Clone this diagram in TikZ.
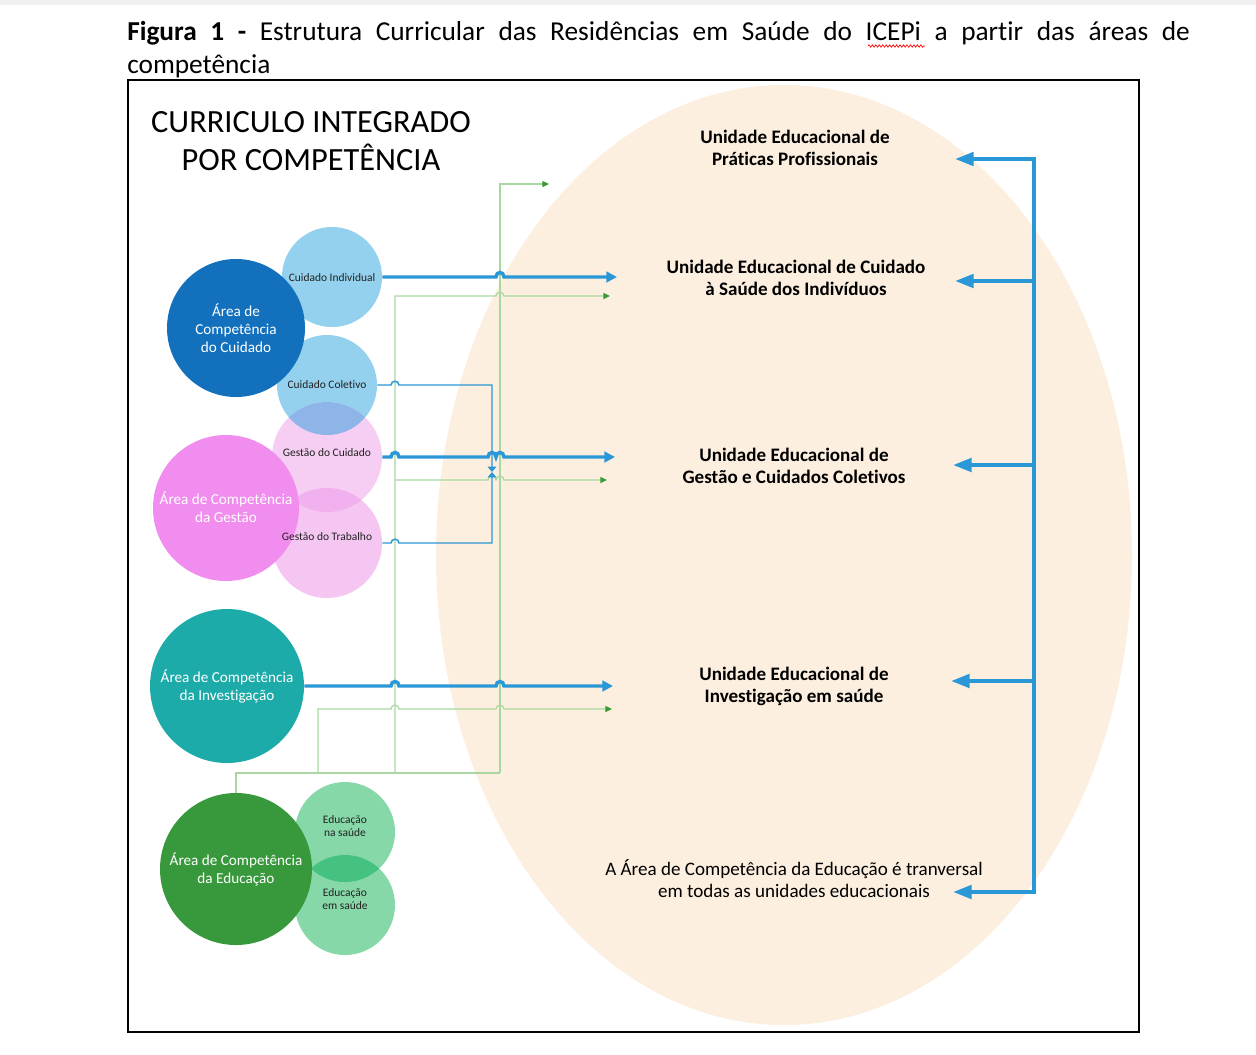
\documentclass[tikz,border=0pt]{standalone}
\usepackage{fontspec}
\setmainfont{Carlito}[RawFeature={-liga}]
\usetikzlibrary{arrows.meta,decorations.pathmorphing}
\definecolor{ellcol}{HTML}{FCEFDF}
\definecolor{barrow}{HTML}{2A97D6}
\definecolor{cdark}{HTML}{1270BD}
\definecolor{clight}{HTML}{93D1EE}
\definecolor{ovlbp}{HTML}{8DB5E8}
\definecolor{pinklight}{HTML}{F6CEF3}
\definecolor{pinklight2}{HTML}{F6C6F2}
\definecolor{ovlpp}{HTML}{F1B0EE}
\definecolor{pinkbig}{HTML}{F08DEE}
\definecolor{teal}{HTML}{1CABA9}
\definecolor{greenbig}{HTML}{38983C}
\definecolor{greenlight}{HTML}{86D8A9}
\definecolor{ovlgg}{HTML}{45C27F}
\definecolor{gline}{HTML}{A8D8A0}
\definecolor{gtip}{HTML}{3A9A3A}
\definecolor{txt}{HTML}{222222}
\begin{document}
\begin{tikzpicture}[x=0.75pt,y=-0.75pt,
  disc/.style={circle,inner sep=0pt,draw=none,minimum size=#1*1.5pt},
  smalltxt/.style={font=\fontsize{8.6}{10.2}\selectfont,text=txt,align=center,inner sep=0pt},
  bigtxt/.style={font=\fontsize{11.4}{13.5}\selectfont,text=white,align=center,inner sep=0pt},
  unit/.style={font=\fontsize{14.3}{16.5}\selectfont\bfseries,text=black,align=center,inner sep=0pt},
  bthick/.style={draw=barrow,line width=2.6pt,-{Triangle[length=8pt,width=8pt]}},
  bthin/.style={draw=barrow,line width=1.1pt,-{Triangle[length=4pt,width=6.5pt]}},
  gconn/.style={draw=gline,line width=0.9pt},
  garrow/.style={draw=gline,line width=0.9pt,-{Triangle[length=5pt,width=4.5pt,color=gtip]}},
  brack/.style={draw=barrow,line width=3pt},
  bracka/.style={draw=barrow,line width=3pt,-{Triangle[length=14pt,width=10pt]}}
]
\useasboundingbox (0,0) rectangle (1256,1054);
\fill[white] (0,0) rectangle (1256,1054);
\fill[black!6] (0,0) rectangle (1256,5);

% caption
\node[anchor=north west,inner sep=0pt,text width=797pt,align=justify,
      font=\fontsize{20.5}{24.75}\selectfont] (cap) at (127,21)
  {\textbf{Figura 1 -} Estrutura Curricular das Residências em Saúde do ICEPi a partir das áreas de\linebreak competência};
\draw[red,decorate,decoration={zigzag,segment length=2.6pt,amplitude=0.9pt},line width=0.5pt] (868,46) -- (925,46);

% frame
\draw[line width=1.5pt] (128,80) rectangle (1139,1032);

% big ellipse
\fill[ellcol] (784,555) ellipse [x radius=348, y radius=470];

% title
\node[font=\fontsize{24.3}{28.5}\selectfont,align=center,inner sep=0pt] (title) at (311,141)
  {CURRICULO INTEGRADO\\POR COMPETÊNCIA};

% small circles
\node[disc=50,fill=clight] (ci) at (332,277) {};
\node[disc=50,fill=clight] (cc) at (327,385) {};
\node[disc=55,fill=pinklight] (gc) at (327,457) {};
\node[disc=55,fill=pinklight2] (gt) at (327,543) {};
\node[disc=50,fill=greenlight] (en) at (345,832) {};
\node[disc=50,fill=greenlight] (es) at (345,905) {};
% overlaps
\begin{scope}
  \clip (cc.center) circle[radius=50];
  \fill[ovlbp] (gc.center) circle[radius=55];
\end{scope}
\begin{scope}
  \clip (gc.center) circle[radius=55];
  \fill[ovlpp] (gt.center) circle[radius=55];
\end{scope}
\begin{scope}
  \clip (en.center) circle[radius=50];
  \fill[ovlgg] (es.center) circle[radius=50];
\end{scope}

% big circles
\node[disc=69,fill=cdark] (acu) at (236,328) {};
\node[disc=73,fill=pinkbig] (age) at (226,508) {};
\node[disc=77,fill=teal] (inv) at (227,686) {};
\node[disc=76,fill=greenbig] (edu) at (236,869) {};

% texts in circles
\node[smalltxt] (tci) at (332,278) {Cuidado Individual};
\node[smalltxt] (tcc) at (327,385) {Cuidado Coletivo};
\node[smalltxt] (tgc) at (327,453) {Gestão do Cuidado};
\node[smalltxt] (tgt) at (327,537) {Gestão do Trabalho};
\node[smalltxt] (ten) at (345,826) {Educação\\na saúde};
\node[smalltxt] (tes) at (345,899) {Educação\\em saúde};
\node[bigtxt] (tacu) at (236,328) {Área de\\Competência\\do Cuidado};
\node[bigtxt] (tage) at (226,507) {Área de Competência\\da Gestão};
\node[bigtxt] (tinv) at (227,686) {Área de Competência\\da Investigação};
\node[bigtxt] (tedu) at (236,869) {Área de Competência\\da Educação};

% arrow end coordinates
\coordinate (e1) at (617,277);
\coordinate (e2) at (615,457);
\coordinate (e3) at (613,686);
\coordinate (mid) at (492,472);
\coordinate (g1) at (549,184);
\coordinate (g2) at (610,296);
\coordinate (g3) at (607,480);
\coordinate (g4) at (612,709);

% green connectors
\draw[gconn] (edu.north) -- (236,773) -- (500,773);
\draw[garrow] (500,773) -- (500,184) -- (g1);
\draw[garrow] (395,773) -- (395,296) -- (496,296) .. controls (496,291) and (504,291) .. (504,296) -- (g2);
\draw[garrow] (395,480) -- (488,480) .. controls (488,475) and (496,475) .. (496,480)
   .. controls (496,475) and (504,475) .. (504,480) -- (g3);
\draw[garrow] (318,773) -- (318,709) -- (391,709) .. controls (391,704) and (399,704) .. (399,709)
   -- (496,709) .. controls (496,704) and (504,704) .. (504,709) -- (g4);

% blue connectors
\draw[bthick] (ci.east) -- (496,277) .. controls (496,271) and (504,271) .. (504,277) -- (e1);
\draw[bthick] (gc.east) -- (391,457) .. controls (391,451) and (399,451) .. (399,457)
   -- (488,457) .. controls (488,451) and (496,451) .. (496,457)
   .. controls (496,451) and (504,451) .. (504,457) -- (e2);
\draw[bthick] (inv.east) -- (391,686) .. controls (391,680) and (399,680) .. (399,686)
   -- (496,686) .. controls (496,680) and (504,680) .. (504,686) -- (e3);
\draw[bthin] (cc.east) -- (391,385) .. controls (391,380) and (399,380) .. (399,385) -- (492,385) -- (mid);
\draw[bthin] (gt.east) -- (391,543) .. controls (391,538) and (399,538) .. (399,543) -- (492,543) -- (mid);

% right unit labels
\node[unit] (u1) at (795,148) {Unidade Educacional de\\Práticas Profissionais};
\node[unit] (u2) at (796,278) {Unidade Educacional de Cuidado\\à Saúde dos Indivíduos};
\node[unit] (u3) at (794,466) {Unidade Educacional de\\Gestão e Cuidados Coletivos};
\node[unit] (u4) at (794,686) {Unidade Educacional de\\Investigação em saúde};
\node[font=\fontsize{14.3}{16.5}\selectfont,align=center,inner sep=0pt] (u5) at (794,879)
  {A Área de Competência da Educação é tranversal\\em todas as unidades educacionais};

% bracket
\coordinate (btop) at (1034,157);
\coordinate (bbot) at (1034,894);
\coordinate (a1) at (955,159);
\coordinate (a2) at (955,281);
\coordinate (a3) at (953,465);
\coordinate (a4) at (951,681);
\coordinate (a5) at (953,892);
\draw[brack] (btop) -- (bbot);
\draw[bracka] (btop |- a1) -- (a1);
\draw[bracka] (btop |- a2) -- (a2);
\draw[bracka] (btop |- a3) -- (a3);
\draw[bracka] (btop |- a4) -- (a4);
\draw[bracka] (btop |- a5) -- (a5);
\end{tikzpicture}
\end{document}
